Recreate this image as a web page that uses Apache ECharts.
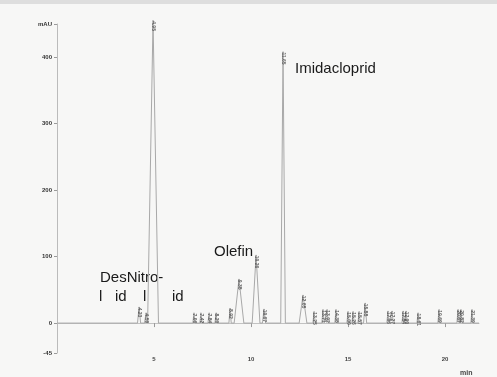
<!DOCTYPE html>
<html>
<head>
<meta charset="utf-8">
<script src="https://cdn.jsdelivr.net/npm/echarts@6/dist/echarts.min.js"></script>
<style>
	html, body { margin: 0; padding: 0; background: #f7f7f6; }
	#P1 { width: 497px; height: 377px; }
</style>
</head>
<body>
<div id="P1"></div>
<script>
// retention time (min), height (mAU), half base width (min)
var peakTimes = [4.23, 4.59, 4.95, 7.06, 7.42, 7.84, 8.20, 8.92, 9.38, 10.26, 10.67, 11.65, 12.68,
	13.25, 13.71, 13.92, 14.38, 15.00, 15.26, 15.57, 15.88, 17.06, 17.27, 17.84, 17.99, 18.61, 19.69,
	20.67, 20.82, 21.39];
var peakHeights = [24, 15, 455, 15, 15, 15, 15, 22, 66, 102, 21, 408, 42,
	17, 20, 20, 20, 17, 17, 17, 30, 18, 18, 18, 18, 15, 20,
	20, 20, 20];
var peakWidths = [0.08, 0.08, 0.28, 0.06, 0.06, 0.06, 0.06, 0.06, 0.25, 0.2, 0.08, 0.12, 0.2,
	0.06, 0.06, 0.06, 0.06, 0.06, 0.06, 0.06, 0.08, 0.06, 0.06, 0.06, 0.06, 0.06, 0.06,
	0.06, 0.06, 0.06];

var yTickValues = [-45, 0, 100, 200, 300, 400, 450];
var yTickLabels = ['-45', '0', '100', '200', '300', '400', 'mAU'];
var xTickValues = [5, 10, 15, 20];

function buildTrace() {
	var pts = [[0, 0]];
	for (var i = 0; i < peakTimes.length; i++) {
		pts.push([peakTimes[i] - peakWidths[i], 0]);
		pts.push([peakTimes[i], peakHeights[i]]);
		pts.push([peakTimes[i] + peakWidths[i], 0]);
	}
	pts.push([21.75, 0]);
	return pts;
}

function buildApex() {
	var pts = [];
	for (var i = 0; i < peakTimes.length; i++) {
		pts.push([peakTimes[i], peakHeights[i]]);
	}
	return pts;
}

function chartP1() {
	var myChart = echarts.init(document.getElementById('P1'));
	var option = {
		backgroundColor: '#f7f7f6',
		animation: false,
		grid: { left: 57, right: 18, top: 24, bottom: 24 },
		xAxis: {
			type: 'value',
			min: 0,
			max: 21.75,
			splitLine: { show: false },
			axisLine: { lineStyle: { color: '#c2c2c2', width: 1 } },
			axisTick: { customValues: xTickValues, length: 4, lineStyle: { color: '#9a9a9a' } },
			axisLabel: {
				customValues: xTickValues,
				fontSize: 6,
				fontWeight: 'bold',
				color: '#444',
				margin: 3
			}
		},
		yAxis: {
			type: 'value',
			min: -45,
			max: 450,
			splitLine: { show: false },
			axisLine: { show: true, lineStyle: { color: '#bbbbbb', width: 1 } },
			axisTick: { show: true, customValues: yTickValues, length: 3, lineStyle: { color: '#9a9a9a' } },
			axisLabel: {
				customValues: yTickValues,
				fontSize: 6,
				fontWeight: 'bold',
				color: '#333',
				margin: 5,
				formatter: function(v) {
					var k = yTickValues.indexOf(v);
					return k < 0 ? '' : yTickLabels[k];
				}
			}
		},
		series: [{
			type: 'line',
			data: buildTrace(),
			showSymbol: false,
			symbol: 'none',
			clip: false,
			lineStyle: { color: '#a9a9a9', width: 1 },
			z: 2
		}, {
			type: 'scatter',
			data: buildApex(),
			symbolSize: 1,
			clip: false,
			itemStyle: { color: '#666' },
			label: {
				show: true,
				position: 'bottom',
				distance: 0,
				rotate: -90,
				align: 'left',
				verticalAlign: 'middle',
				fontSize: 5,
				fontWeight: 'bold',
				color: '#444',
				formatter: function(p) { return p.value[0].toFixed(2); }
			},
			z: 3
		}],
		graphic: [
			{ type: 'rect', left: 0, top: 0, shape: { width: 497, height: 4 }, style: { fill: '#dedede' } },
			{ type: 'text', x: 295, y: 68.5, style: { text: 'Imidacloprid', font: '15px "Liberation Sans", Arial', fill: '#1a1a1a', verticalAlign: 'middle' } },
			{ type: 'text', x: 214, y: 251.5, style: { text: 'Olefin', font: '15px "Liberation Sans", Arial', fill: '#1a1a1a', verticalAlign: 'middle' } },
			{ type: 'text', x: 100, y: 277.5, style: { text: 'DesNitro-', font: '15px "Liberation Sans", Arial', fill: '#1a1a1a', verticalAlign: 'middle' } },
			{ type: 'text', x: 99, y: 296.5, style: { text: 'l', font: '15px "Liberation Sans", Arial', fill: '#1a1a1a', verticalAlign: 'middle' } },
			{ type: 'text', x: 115, y: 296.5, style: { text: 'id', font: '15px "Liberation Sans", Arial', fill: '#1a1a1a', verticalAlign: 'middle' } },
			{ type: 'text', x: 143, y: 296.5, style: { text: 'l', font: '15px "Liberation Sans", Arial', fill: '#1a1a1a', verticalAlign: 'middle' } },
			{ type: 'text', x: 172, y: 296.5, style: { text: 'id', font: '15px "Liberation Sans", Arial', fill: '#1a1a1a', verticalAlign: 'middle' } },
			{ type: 'text', x: 460, y: 373, style: { text: 'min', font: 'bold 7px "Liberation Sans", Arial', fill: '#444', verticalAlign: 'middle' } }
		]
	};
	myChart.setOption(option);
}

chartP1();
</script>
</body>
</html>
